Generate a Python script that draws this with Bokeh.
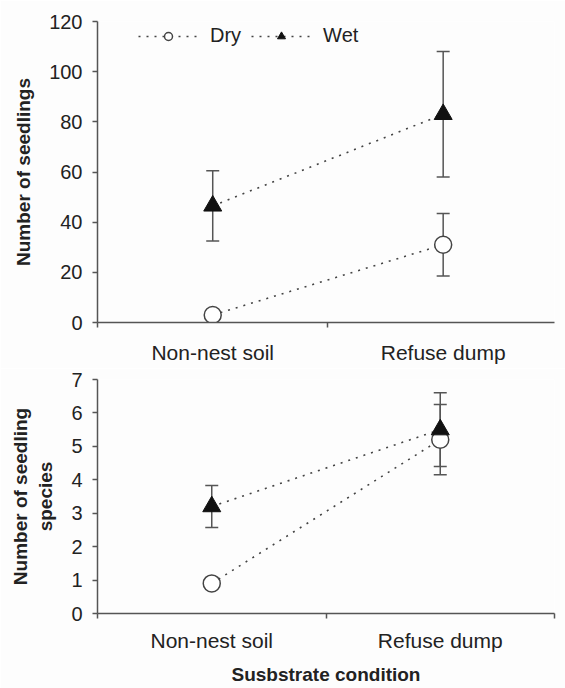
from bokeh.plotting import figure
from bokeh.layouts import column
from bokeh.models import Range1d, FixedTicker, Whisker, TeeHead, ColumnDataSource, Legend, LegendItem
from bokeh.embed import file_html
from bokeh.resources import INLINE

categories = ["Non-nest soil", "Refuse dump"]
seedlings_dry = [3, 31]
seedlings_dry_err = [1, 12.5]
seedlings_wet = [46.5, 83]
seedlings_wet_err = [14, 25]
species_dry = [0.9, 5.2]
species_dry_err = [0.05, 1.05]
species_wet = [3.2, 5.5]
species_wet_err = [0.63, 1.1]
top_ticks = [0, 20, 40, 60, 80, 100, 120]
bottom_ticks = [0, 1, 2, 3, 4, 5, 6, 7]

FONT = "Liberation Sans"
AX = "#555555"
TXT = "#222222"
BG = "#fdfdfd"
xpos = [i + 0.5 for i in range(len(categories))]
label_map = {x: c for x, c in zip(xpos, categories)}


def style(p, yticks):
    p.xgrid.visible = False
    p.ygrid.visible = False
    p.outline_line_color = None
    p.background_fill_color = BG
    p.border_fill_color = BG
    p.xaxis.ticker = FixedTicker(ticks=xpos, minor_ticks=[0, 1, 2])
    p.xaxis.major_label_overrides = label_map
    p.xaxis.major_tick_out = 0
    p.xaxis.major_tick_in = 0
    p.xaxis.minor_tick_out = 5
    p.xaxis.minor_tick_in = 0
    p.yaxis.ticker = FixedTicker(ticks=yticks)
    p.yaxis.major_tick_out = 5
    p.yaxis.major_tick_in = 0
    for ax in (p.xaxis, p.yaxis):
        ax.axis_line_color = AX
        ax.axis_line_width = 1.5
        ax.major_tick_line_color = AX
        ax.major_tick_line_width = 1.5
        ax.minor_tick_line_color = AX
        ax.minor_tick_line_width = 1.5
        ax.major_label_text_font = FONT
        ax.major_label_text_font_size = "20px"
        ax.major_label_text_color = TXT
        ax.axis_label_text_font = FONT
        ax.axis_label_text_font_size = "19px"
        ax.axis_label_text_font_style = "bold"
        ax.axis_label_text_color = TXT
    p.xaxis.major_label_text_font_size = "21px"
    p.yaxis.minor_tick_line_color = None
    p.yaxis.major_label_standoff = 10
    p.yaxis.axis_label_standoff = 12


def draw(p, dry, dry_err, wet, wet_err):
    src = ColumnDataSource(dict(
        x=xpos,
        dry=dry, dry_lo=[v - e for v, e in zip(dry, dry_err)], dry_hi=[v + e for v, e in zip(dry, dry_err)],
        wet=wet, wet_lo=[v - e for v, e in zip(wet, wet_err)], wet_hi=[v + e for v, e in zip(wet, wet_err)],
    ))
    for s in ("dry", "wet"):
        w = Whisker(source=src, base="x", lower=s + "_lo", upper=s + "_hi",
                    line_color=AX, line_width=1.5,
                    upper_head=TeeHead(size=13, line_color=AX, line_width=1.5),
                    lower_head=TeeHead(size=13, line_color=AX, line_width=1.5))
        p.add_layout(w)
    ld = p.line("x", "dry", source=src, line_color="#444444", line_width=1.6, line_dash="2 6")
    lw = p.line("x", "wet", source=src, line_color="#444444", line_width=1.6, line_dash="2 6")
    md = p.scatter("x", "dry", source=src, marker="circle", size=17, fill_color="white",
                   line_color="#444444", line_width=1.5)
    mw = p.scatter("x", "wet", source=src, marker="triangle", size=18, fill_color="#111111",
                   line_color="#111111", line_width=1)
    return ld, md, lw, mw


p1 = figure(width=565, height=368, output_backend="svg", toolbar_location=None,
            x_range=Range1d(0, 468 / 236), y_range=Range1d(0, 120),
            min_border_left=97, min_border_right=0, min_border_top=21, min_border_bottom=46)
style(p1, top_ticks)
p1.yaxis.axis_label = "Number of seedlings"
p1.xaxis.major_label_standoff = 13
ld, md, lw, mw = draw(p1, seedlings_dry, seedlings_dry_err, seedlings_wet, seedlings_wet_err)
leg = Legend(items=[LegendItem(label="Dry", renderers=[ld, md]), LegendItem(label="Wet", renderers=[lw, mw])],
             orientation="horizontal", location=(41, 275), padding=0, margin=0, spacing=10,
             glyph_width=60, glyph_height=20, label_standoff=12,
             label_text_font=FONT, label_text_font_size="20px", label_text_color=TXT,
             border_line_alpha=0, background_fill_alpha=0)
p1.add_layout(leg, "center")

p2 = figure(width=565, height=320, output_backend="svg", toolbar_location=None,
            x_range=Range1d(0, 2), y_range=Range1d(0, 7),
            min_border_left=97, min_border_right=11, min_border_top=11, min_border_bottom=75)
style(p2, bottom_ticks)
p2.yaxis.axis_label = "Number of seedling\nspecies"
p2.xaxis.axis_label = "Susbstrate condition"
p2.xaxis.major_label_standoff = 10
p2.xaxis.axis_label_standoff = 9
draw(p2, species_dry, species_dry_err, species_wet, species_wet_err)

layout = column(p1, p2, spacing=0)
open("out.html", "w").write(file_html(layout, INLINE))
